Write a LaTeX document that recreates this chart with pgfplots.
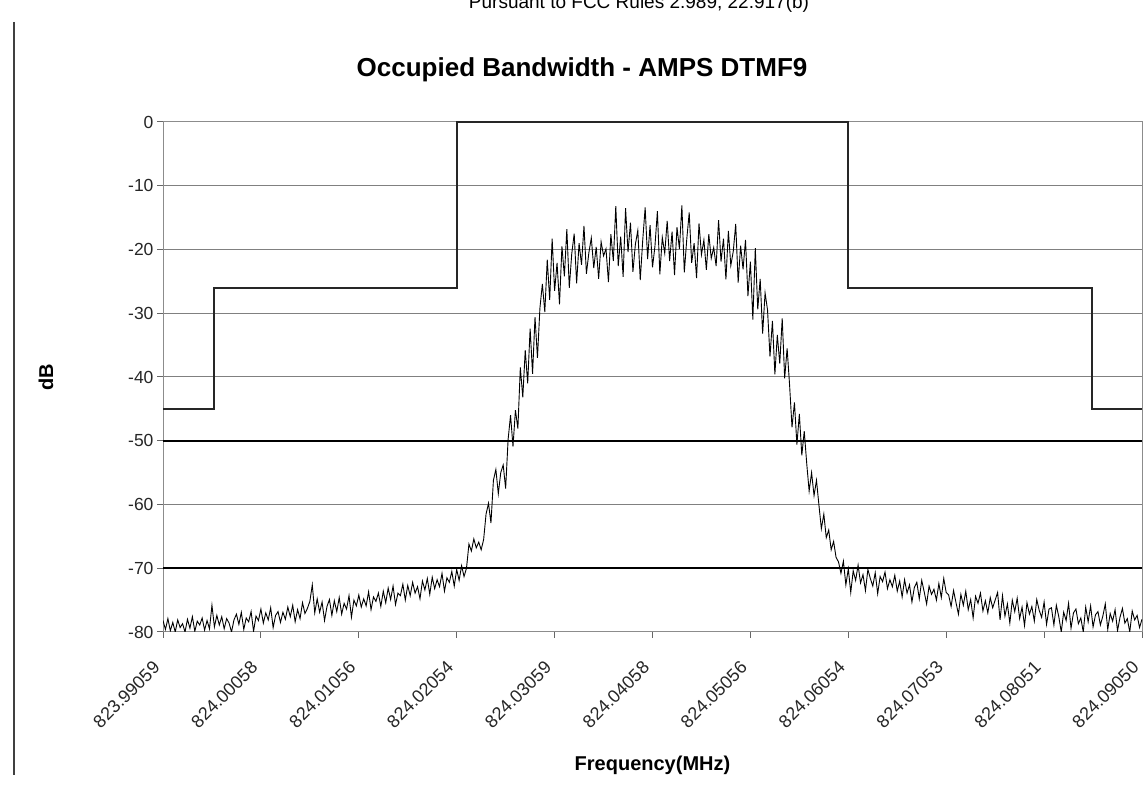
\documentclass[border=0pt]{standalone}
\usepackage{fontspec}
\setmainfont{Liberation Sans}
\usepackage{pgfplots}
\pgfplotsset{compat=1.18}
\usepackage{pgfplotstable}

\pgfplotstableread{
y
-78.2
-79.6
-77.9
-79.8
-78.5
-80.0
-78.1
-79.3
-78.7
-80.0
-78.0
-79.4
-77.6
-79.9
-78.3
-78.9
-77.8
-79.7
-78.2
-79.5
-75.8
-79.2
-77.4
-78.9
-77.6
-79.5
-77.9
-78.6
-80.0
-78.1
-77.2
-78.8
-76.9
-79.6
-77.8
-78.4
-76.8
-79.9
-77.5
-78.2
-76.4
-78.6
-77.0
-78.1
-76.2
-79.3
-77.4
-76.8
-78.5
-76.9
-78.0
-76.1
-77.6
-75.8
-78.4
-76.5
-77.9
-75.4
-77.1
-76.3
-75.2
-72.6
-77.0
-74.8
-76.9
-75.3
-78.2
-76.0
-74.9
-77.4
-75.1
-76.8
-74.6
-77.2
-75.5
-76.4
-74.3
-77.7
-75.0
-75.9
-74.2
-76.1
-74.8
-75.9
-73.7
-76.5
-74.5
-75.2
-73.9
-76.0
-73.6
-75.4
-73.1
-74.9
-72.8
-75.7
-73.9
-74.3
-72.5
-75.0
-72.7
-74.3
-72.2
-73.9
-72.9
-74.8
-72.0
-73.4
-71.6
-74.1
-71.4
-73.2
-71.8
-72.9
-70.8
-73.6
-71.5
-72.2
-70.5
-72.8
-70.2
-71.9
-69.6
-71.3
-70.0
-66.2
-67.3
-65.4
-66.8
-65.9
-67.1
-65.5
-61.5
-59.8
-62.9
-56.2
-54.5
-58.3
-55.0
-53.8
-57.5
-49.8
-46.0
-50.9
-45.2
-48.1
-38.5
-43.2
-35.8
-41.0
-32.4
-39.5
-30.6
-37.0
-29.2
-25.4
-29.8
-21.6
-27.9
-18.3
-26.5
-22.1
-28.6
-19.5
-24.2
-16.8
-26.0
-20.7
-17.5
-25.3
-19.0
-22.4
-16.3
-23.8
-20.5
-18.2
-22.9
-19.6
-24.6
-18.8
-21.0
-19.9
-25.1
-17.6
-21.8
-13.2
-22.6
-18.0
-24.3
-13.5
-20.4
-15.8
-23.5
-19.2
-17.0
-24.8
-18.6
-13.4
-21.5
-16.2
-22.8
-19.5
-14.0
-23.9
-18.1
-20.6
-15.5
-21.8
-17.2
-24.0
-16.5
-19.9
-13.1
-23.6
-18.4
-14.2
-22.1
-19.0
-24.5
-15.9
-20.8
-18.5
-23.2
-17.6
-21.4
-19.7
-22.6
-15.4
-21.9
-18.3
-24.7
-17.1
-22.5
-20.3
-16.0
-25.2
-19.4
-23.1
-18.5
-27.3
-21.9
-31.0
-19.8
-29.4
-24.6
-33.2
-26.8
-29.5
-36.8
-31.2
-39.6
-33.4
-37.9
-30.8
-40.2
-35.5
-41.2
-47.9
-44.0
-50.6
-45.8
-52.3
-48.5
-53.5
-57.9
-55.0
-58.6
-56.2
-60.1
-63.8
-61.5
-65.2
-64.0
-67.1
-65.8
-68.3
-69.0
-70.8
-68.9
-72.6
-70.1
-73.8
-70.4
-71.9
-69.5
-72.3
-71.0
-73.5
-70.2
-71.6
-72.8
-70.7
-74.0
-71.3
-72.1
-70.6
-73.2
-71.8
-72.9
-71.1
-73.6
-72.0
-74.5
-71.8
-73.9
-72.6
-75.3
-73.0
-72.2
-74.8
-71.9
-73.7
-75.6
-72.8
-74.1
-73.3
-75.0
-72.4
-74.6
-71.6
-73.8
-74.2
-76.0
-73.5
-75.4
-77.2
-74.1
-75.8
-73.6
-76.5
-74.9
-77.8
-74.4
-75.5
-73.9
-76.7
-75.1
-77.0
-74.6
-76.2
-75.0
-73.8
-78.1
-74.3
-77.5
-75.6
-78.6
-75.0
-76.8
-74.7
-77.9
-76.1
-79.0
-75.4
-77.2
-76.0
-78.3
-74.9
-76.6
-77.7
-75.3
-78.8
-76.4
-76.2
-78.9
-75.8
-77.6
-80.0
-76.9
-78.2
-75.5
-79.4
-77.0
-76.4
-78.7
-77.8
-80.0
-76.1
-78.4
-75.9
-79.2
-77.3
-76.8
-78.9
-77.5
-75.6
-79.6
-77.1
-78.3
-76.5
-79.8
-77.7
-76.3
-78.6
-77.9
-80.0
-76.7
-78.1
-77.4
-79.3
-78.0
}\spectrum

\pgfplotstableread{
x y
0 -45
0.52 -45
0.52 -26
3.0 -26
3.0 0
7.0 0
7.0 -26
9.49 -26
9.49 -45
10 -45
}\mask

\begin{document}
\begin{tikzpicture}[x=1pt,y=1pt]
\path[use as bounding box] (0,0) rectangle (1148,789);
\node[font=\fontsize{19}{22}\selectfont, anchor=base] at (639,780) {Pursuant to FCC Rules 2.989, 22.917(b)};
\draw[line width=1.5pt, black!75] (14,767) -- (14,14);
\node[font=\fontsize{26}{30}\selectfont\bfseries] at (582,719) {Occupied Bandwidth - AMPS DTMF9};
\begin{axis}[
  at={(163pt,157pt)}, anchor=south west,
  scale only axis, width=979pt, height=510pt,
  xmin=0, xmax=10, ymin=-80, ymax=0,
  xtick={0,1,...,10},
  xticklabels={823.99059,824.00058,824.01056,824.02054,824.03059,824.04058,824.05056,824.06054,824.07053,824.08051,824.09050},
  ytick={-80,-70,...,0},
  /pgf/number format/assume math mode=true,
  tick align=outside, major tick length=6pt,
  xtick pos=bottom, ytick pos=left,
  tick style={black!60, line width=1pt},
  axis line style={black!45, line width=1pt},
  ymajorgrids, grid style={black!50, line width=1pt},
  yticklabel style={font=\fontsize{17.5}{20}\selectfont, text=black!85},
  xticklabel style={font=\fontsize{18}{20}\selectfont, text=black!85, xshift=-4pt, yshift=-24pt, rotate=45, anchor=east},
  xlabel={\textbf{Frequency(MHz)}},
  ylabel={\textbf{dB}},
  label style={font=\fontsize{20}{24}\selectfont},
  xlabel style={at={(axis description cs:0.5,-0.261)}, anchor=center},
  ylabel style={at={(axis description cs:-0.1195,0.5)}, anchor=center},
  clip=true,
]
\addplot[black, line width=0.9pt] table[x expr=\coordindex/40, y=y] {\spectrum};
\addplot[black, line width=1.6pt] coordinates {(0,-50) (10,-50)};
\addplot[black, line width=1.6pt] coordinates {(0,-70) (10,-70)};
\addplot[black!85, line width=2.2pt] table[x=x, y=y] {\mask};
\end{axis}
\end{tikzpicture}
\end{document}
